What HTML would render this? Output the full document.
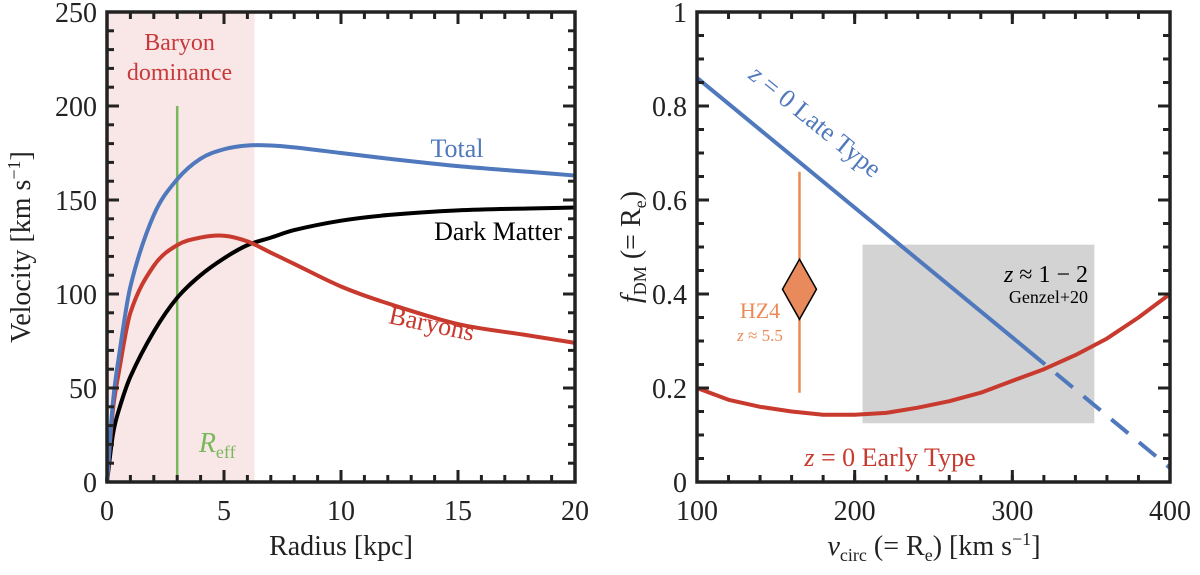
<!DOCTYPE html>
<html><head><meta charset="utf-8"><style>
body{margin:0;background:#fff}
svg text{font-family:"Liberation Serif",serif}
</style></head><body>
<svg id="c" width="1200" height="570" xmlns="http://www.w3.org/2000/svg"></svg>
<script>
const radius=[0,0.25,0.5,1,2,3,4,5,6,7,8,10,12,15,18,20];
const vTotal=[0,42,66,104,142,161,172,177,179,179,178,175,172,168,165,163];
const vBaryon=[0,38,58,90,115,126,130,131,128,122,116,104,95,84,78,74];
const vDM=[0,25,38,56,80,98,110,119,126,130,134,139,142,144.5,145.5,146];
const leftXTicks=[0,5,10,15,20];
const leftYTicks=[0,50,100,150,200,250];
const vcirc=[100,120,140,160,180,200,220,240,260,280,300,320,340,360,380,400];
const fEarly=[0.2,0.175,0.16,0.15,0.143,0.143,0.147,0.158,0.172,0.19,0.215,0.24,0.27,0.305,0.35,0.40];
const lateV=[100,310,400];
const lateF=[0.86,0.28,0.03];
const hz4=[165,0.41,0.19,0.66];
const boxV=[205,352];const boxF=[0.125,0.505];
const rightXTicks=[100,200,300,400];
const rightYTicks=[0,0.2,0.4,0.6,0.8,1];
const NS="http://www.w3.org/2000/svg";const svg=document.getElementById('c');
function el(t,a,name,p){const e=document.createElementNS(NS,t);for(const k in a)e.setAttribute(k,a[k]);


(p||svg).appendChild(e);return e;}
function txt(x,y,s,name,o){const e=el('text',Object.assign({x:x,y:y,'font-size':26,fill:'#222','text-anchor':'middle'},o||{}),name);e.innerHTML=s;return e;}
const L={x0:107,x1:575,y0:482,y1:12};
const lx=v=>L.x0+(v-0)/20*(L.x1-L.x0), ly=v=>L.y0-v/250*(L.y0-L.y1);
el('rect',{x:lx(0),y:L.y1,width:lx(6.3)-lx(0),height:L.y0-L.y1,fill:'#f9e6e6'},'baryon-dominance-region');
txt(lx(3.1),50,'Baryon','baryon-label',{fill:'#c8393b','font-size':24});
txt(lx(3.1),80,'dominance','dominance-label',{fill:'#c8393b','font-size':24});
el('line',{x1:lx(3),x2:lx(3),y1:ly(0),y2:ly(200),stroke:'#77b95a','stroke-width':2.5},'reff-line');
txt(lx(3)+40,452,'<tspan font-style="italic">R</tspan><tspan font-size="18" dy="6">eff</tspan>','reff-label',{fill:'#77b95a','font-size':28});
function path(xs,ys,fx,fy,col,name,dash){let d=xs.map((v,i)=>(i?'L':'M')+fx(v).toFixed(1)+','+fy(ys[i]).toFixed(1)).join('');
const a={d:d,fill:'none',stroke:col,'stroke-width':4,'stroke-linejoin':'round'};if(dash)a['stroke-dasharray']=dash;return el('path',a,name);}
function smooth(xs,ys,fx,fy,col,name){const P=xs.map((v,i)=>[fx(v),fy(ys[i])]);let d='M'+P[0];
for(let i=0;i<P.length-1;i++){const p0=P[i-1]||P[i],p1=P[i],p2=P[i+1],p3=P[i+2]||p2;
const h=p2[0]-p1[0];
const m1=i>0?(p2[1]-p0[1])/(p2[0]-p0[0]):(p2[1]-p1[1])/h;
const m2=(i+2<P.length)?(p3[1]-p1[1])/(p3[0]-p1[0]):(p2[1]-p1[1])/h;
d+='C'+(p1[0]+h/3)+','+(p1[1]+m1*h/3)+' '+(p2[0]-h/3)+','+(p2[1]-m2*h/3)+' '+p2;}
return el('path',{d:d,fill:'none',stroke:col,'stroke-width':4},name);}
smooth(radius,vDM,lx,ly,'#000','dark-matter-curve');
smooth(radius,vBaryon,lx,ly,'#c8392e','baryons-curve');
smooth(radius,vTotal,lx,ly,'#4f78bd','total-curve');
txt(457,157,'Total','total-label',{fill:'#4f78bd'});
txt(498,240,'Dark Matter','dark-matter-label',{fill:'#000'});
txt(430,332,'Baryons','baryons-label',{fill:'#c8392e',transform:'rotate(12 430 332)'});
function frame(X0,X1,Y0,Y1,xt,yt,fx,fy,pre,xminor,yminor){
el('rect',{x:X0,y:Y1,width:X1-X0,height:Y0-Y1,fill:'none',stroke:'#222','stroke-width':3.5},pre+'-frame');
xminor.forEach(v=>{const x=fx(v);el('line',{x1:x,x2:x,y1:Y0,y2:Y0-7,stroke:'#222','stroke-width':3},pre+'-x-tick');el('line',{x1:x,x2:x,y1:Y1,y2:Y1+7,stroke:'#222','stroke-width':3},pre+'-x-tick');});
yminor.forEach(v=>{const y=fy(v);el('line',{x1:X0,x2:X0+7,y1:y,y2:y,stroke:'#222','stroke-width':3},pre+'-y-tick');el('line',{x1:X1,x2:X1-7,y1:y,y2:y,stroke:'#222','stroke-width':3},pre+'-y-tick');});
xt.forEach(v=>{const x=fx(v);el('line',{x1:x,x2:x,y1:Y0,y2:Y0-12,stroke:'#222','stroke-width':3},pre+'-x-major-tick');el('line',{x1:x,x2:x,y1:Y1,y2:Y1+12,stroke:'#222','stroke-width':3},pre+'-x-major-tick');txt(x,Y0+38,String(v),pre+'-x-tick-label',{'font-size':28});});
yt.forEach(v=>{const y=fy(v);el('line',{x1:X0,x2:X0+12,y1:y,y2:y,stroke:'#222','stroke-width':3},pre+'-y-major-tick');el('line',{x1:X1,x2:X1-12,y1:y,y2:y,stroke:'#222','stroke-width':3},pre+'-y-major-tick');txt(X0-10,y+10,String(v),pre+'-y-tick-label',{'font-size':28,'text-anchor':'end'});});
}
const lminX=[];for(let v=0;v<=20;v+=1)lminX.push(v);const lminY=[];for(let v=0;v<=250;v+=10)lminY.push(v);
frame(L.x0,L.x1,L.y0,L.y1,leftXTicks,leftYTicks,lx,ly,'left',lminX,lminY);
txt(341,555,'Radius [kpc]','left-x-axis-title',{'font-size':28});
txt(30,247,'Velocity [km s<tspan dy="-10" font-size="18">−1</tspan><tspan dy="10">]</tspan>','left-y-axis-title',{'font-size':28,transform:'rotate(-90 30 247)'});
const R={x0:697,x1:1170,y0:482,y1:12};
const rx=v=>R.x0+(v-100)/300*(R.x1-R.x0), ry=v=>R.y0-v*(R.y0-R.y1);
el('rect',{x:rx(boxV[0]),y:ry(boxF[1]),width:rx(boxV[1])-rx(boxV[0]),height:ry(boxF[0])-ry(boxF[1]),fill:'#d3d3d3'},'genzel-region');
txt(1088,282,'<tspan font-style="italic">z</tspan> ≈ 1 − 2','genzel-z-label',{'font-size':24,'text-anchor':'end',fill:'#000'});
txt(1088,303,'Genzel+20','genzel-label',{'font-size':18,'text-anchor':'end',fill:'#000'});
path(vcirc,fEarly,rx,ry,'#c8392e','early-type-curve');
path([lateV[0],lateV[1]],[lateF[0],lateF[1]],rx,ry,'#4f78bd','late-type-line');
path([lateV[1],lateV[2]],[lateF[1],lateF[2]],rx,ry,'#4f78bd','late-type-extrapolation','22,14');
txt(810,128,'<tspan font-style="italic">z</tspan> = 0 Late Type','late-type-label',{fill:'#4f78bd',transform:'rotate(39 810 128)'});
txt(890,466,'<tspan font-style="italic">z</tspan> = 0 Early Type','early-type-label',{fill:'#c8392e'});
el('line',{x1:rx(hz4[0]),x2:rx(hz4[0]),y1:ry(hz4[2]),y2:ry(hz4[3]),stroke:'#ec8a55','stroke-width':2.5},'hz4-errorbar');
const cx=rx(hz4[0]),cy=ry(hz4[1]);
el('polygon',{points:`${cx},${cy-30} ${cx+17},${cy} ${cx},${cy+30} ${cx-17},${cy}`,fill:'#e98a5c',stroke:'#000','stroke-width':1.5},'hz4-marker');
txt(760,318,'HZ4','hz4-label',{fill:'#ec8a55','font-size':22});
txt(760,341,'<tspan font-style="italic">z</tspan> ≈ 5.5','hz4-z-label',{fill:'#ec8a55','font-size':17});
const rminX=[];for(let v=100;v<=400;v+=20)rminX.push(v);const rminY=[];for(let v=0;v<=1.001;v+=0.05)rminY.push(v);
frame(R.x0,R.x1,R.y0,R.y1,rightXTicks,rightYTicks,rx,ry,'right',rminX,rminY);
txt(934,555,'<tspan font-style="italic">v</tspan><tspan font-size="18" dy="6">circ</tspan><tspan dy="-6"> (= R</tspan><tspan font-size="18" dy="6">e</tspan><tspan dy="-6">) [km s</tspan><tspan dy="-10" font-size="18">−1</tspan><tspan dy="10">]</tspan>','right-x-axis-title',{'font-size':28});
txt(640,247,'<tspan font-style="italic">f</tspan><tspan font-size="18" dy="6">DM</tspan><tspan dy="-6"> (= R</tspan><tspan font-size="18" dy="6">e</tspan><tspan dy="-6">)</tspan>','right-y-axis-title',{'font-size':28,transform:'rotate(-90 640 247)'});
</script>
</body></html>
